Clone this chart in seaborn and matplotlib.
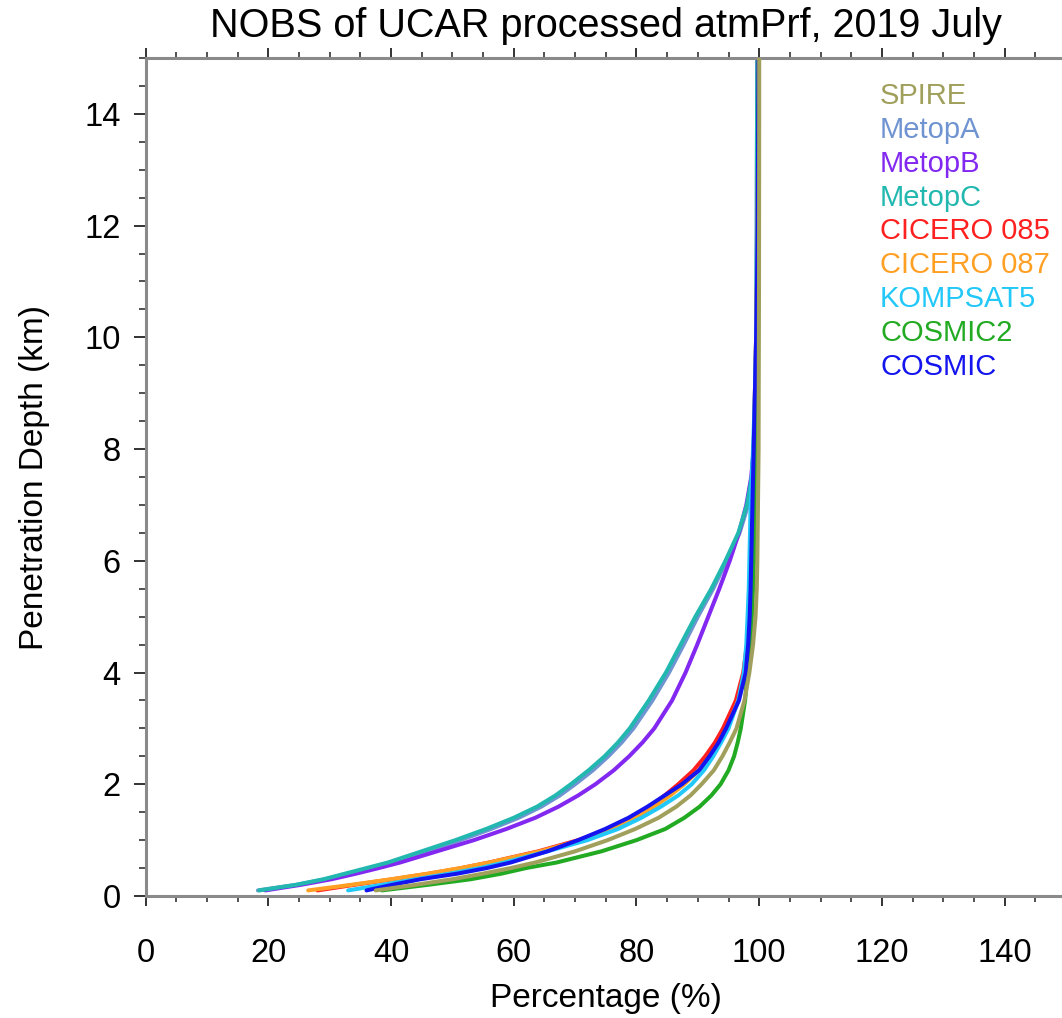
import numpy as np
import pandas as pd
import matplotlib
matplotlib.use("Agg")
import matplotlib.pyplot as plt
from matplotlib.ticker import MultipleLocator
import seaborn as sns

# ---------------- data ----------------
DEPTH_KM = [0.1, 0.2, 0.3, 0.4, 0.5, 0.6, 0.8, 1.0, 1.2, 1.4, 1.6, 1.8, 2.0, 2.25,
            2.5, 2.75, 3.0, 3.5, 4.0, 4.5, 5.0, 5.5, 6.0, 6.5, 7.0, 7.5, 8.0,
            9.0, 10.0, 11.0, 12.0, 13.0, 14.0, 15.0]

SPIRE = [37.5, 44.0, 50.0, 55.0, 59.5, 63.5, 70.0, 75.3, 79.8, 83.6, 86.5, 88.8, 90.6, 92.6,
         94.0, 95.2, 96.3, 97.6, 98.4, 99.0, 99.4, 99.6, 99.7, 99.75, 99.8, 99.85, 99.9,
         99.92, 99.95, 99.97, 99.98, 99.99, 100.0, 100.0]
METOPA = [18.3, 24.6, 29.3, 33.0, 36.6, 40.2, 45.8, 51.3, 56.3, 60.8, 64.5, 67.5, 70.0, 72.9,
          75.4, 77.6, 79.5, 82.6, 85.3, 87.7, 90.0, 92.5, 94.7, 96.8, 98.2, 98.9, 99.2,
          99.45, 99.55, 99.6, 99.6, 99.62, 99.65, 99.7]
METOPB = [19.5, 25.3, 30.3, 34.3, 38.0, 41.5, 47.5, 53.5, 58.8, 63.5, 67.3, 70.5, 73.3, 76.3,
          78.8, 81.0, 82.9, 85.8, 88.0, 89.9, 91.7, 93.5, 95.2, 96.7, 97.9, 98.7, 99.1,
          99.45, 99.55, 99.6, 99.65, 99.68, 99.7, 99.72]
METOPC = [18.5, 24.5, 29.0, 32.5, 36.0, 39.5, 45.0, 50.5, 55.5, 60.0, 63.8, 66.8, 69.3, 72.2,
          74.8, 77.0, 78.9, 82.0, 84.8, 87.2, 89.6, 92.2, 94.5, 96.6, 98.0, 98.8, 99.1,
          99.4, 99.5, 99.55, 99.6, 99.62, 99.65, 99.7]
CICERO_085 = [28.0, 34.0, 40.3, 46.2, 51.5, 56.0, 64.0, 70.5, 75.6, 79.3, 82.2, 84.6, 86.8, 89.3,
              91.2, 92.8, 94.1, 96.2, 97.4, 98.0, 98.45, 98.6, 98.7, 98.8, 98.9, 99.0, 99.1,
              99.3, 99.5, 99.65, 99.75, 99.8, 99.85, 99.9]
CICERO_087 = [26.5, 33.5, 40.0, 46.0, 51.3, 56.0, 64.3, 71.0, 76.0, 79.8, 82.9, 85.5, 87.8, 90.2,
              92.0, 93.5, 94.7, 96.6, 97.7, 98.2, 98.45, 98.6, 98.7, 98.8, 98.9, 99.0, 99.1,
              99.3, 99.5, 99.65, 99.75, 99.8, 99.85, 99.9]
KOMPSAT5 = [33.0, 38.5, 44.0, 49.5, 54.5, 58.5, 65.5, 72.0, 77.0, 80.8, 84.0, 86.8, 89.0, 91.0,
            92.5, 93.8, 95.0, 96.6, 97.5, 97.9, 98.1, 98.3, 98.4, 98.5, 98.6, 98.8, 99.0,
            99.3, 99.5, 99.65, 99.75, 99.8, 99.85, 99.9]
COSMIC2 = [38.5, 46.0, 53.0, 58.0, 62.0, 67.0, 74.3, 80.0, 84.7, 87.8, 90.3, 92.2, 93.7, 95.0,
           95.9, 96.5, 97.0, 97.7, 98.1, 98.5, 98.8, 99.0, 99.15, 99.25, 99.3, 99.4, 99.45,
           99.55, 99.65, 99.75, 99.8, 99.85, 99.88, 99.9]
COSMIC = [36.0, 40.2, 44.8, 50.8, 55.6, 59.5, 65.5, 70.5, 74.9, 78.7, 81.8, 84.6, 87.4, 90.2,
          91.9, 93.4, 94.6, 96.7, 97.8, 98.2, 98.45, 98.6, 98.7, 98.8, 98.9, 99.0, 99.1,
          99.3, 99.5, 99.65, 99.75, 99.8, 99.85, 99.9]

MISSIONS = ["SPIRE", "MetopA", "MetopB", "MetopC", "CICERO 085", "CICERO 087",
            "KOMPSAT5", "COSMIC2", "COSMIC"]
SERIES = [SPIRE, METOPA, METOPB, METOPC, CICERO_085, CICERO_087, KOMPSAT5, COSMIC2, COSMIC]
COLORS = ["#a0a05c", "#7094d2", "#8228f0", "#22b8b0", "#ff2020", "#ffa024",
          "#22c8f8", "#22aa22", "#1414f0"]

TITLE = "NOBS of UCAR processed atmPrf, 2019 July"
XLABEL = "Percentage (%)"
YLABEL = "Penetration Depth (km)"

df = pd.concat(
    [pd.DataFrame({"mission": m, "pct": vals, "depth": DEPTH_KM})
     for m, vals in zip(MISSIONS, SERIES)],
    ignore_index=True)

# ---------------- style ----------------
sns.set_theme(style="white")
plt.rcParams["font.family"] = ["Liberation Sans", "DejaVu Sans"]
plt.rcParams["text.color"] = "black"
plt.rcParams["axes.labelcolor"] = "black"
plt.rcParams["xtick.labelcolor"] = "black"
plt.rcParams["ytick.labelcolor"] = "black"

W, H = 1062, 1018
fig = plt.figure(figsize=(W / 100, H / 100), dpi=100)
ax = fig.add_axes([145.6 / W, (H - 896) / H, 920.4 / W, 838 / H])

sns.lineplot(data=df, x="pct", y="depth", hue="mission", hue_order=MISSIONS,
             palette=dict(zip(MISSIONS, COLORS)), sort=False, estimator=None,
             linewidth=2.9, ax=ax, legend=True)
ax.lines[0].set_zorder(3)

ax.set_xlim(0, 150)
ax.set_ylim(0, 15)
ax.xaxis.set_major_locator(MultipleLocator(20))
ax.xaxis.set_minor_locator(MultipleLocator(5))
ax.yaxis.set_major_locator(MultipleLocator(2))
ax.yaxis.set_minor_locator(MultipleLocator(0.5))

for side in ["left", "bottom", "top"]:
    ax.spines[side].set_color("#8a8a8a")
    ax.spines[side].set_linewidth(2.2)
ax.spines["right"].set_visible(False)

ax.tick_params(axis="x", which="major", direction="out", length=7, width=1.4,
               color="#333333", labelcolor="black", top=True, bottom=True,
               labelsize=23.5, pad=23)
ax.tick_params(axis="x", which="minor", direction="out", length=4, width=1.2,
               color="#333333", top=True, bottom=True)
ax.tick_params(axis="y", which="major", direction="out", length=9, width=1.4,
               color="#333333", labelcolor="black", left=True, labelsize=23.5, pad=9)
ax.tick_params(axis="y", which="minor", direction="out", length=5, width=1.2,
               color="#333333", left=True)

ax.set_xlabel(XLABEL, fontsize=24, color="black")
ax.set_ylabel(YLABEL, fontsize=24, color="black")
ax.xaxis.set_label_coords(0.5, -0.104)
ax.yaxis.set_label_coords(-0.104, 0.5)

fig.text(606 / W, 1 - 37 / H, TITLE, ha="center", va="baseline", fontsize=28.5,
         color="black")

handles, labels = ax.get_legend_handles_labels()
ax.legend(handles, labels, loc="upper left", bbox_to_anchor=(880 / W, 1 - 82 / H),
          bbox_transform=fig.transFigure, frameon=False, handlelength=0,
          handletextpad=0, labelcolor="linecolor", fontsize=21, labelspacing=0.2,
          borderpad=0, borderaxespad=0)

fig.savefig("out.png", dpi=100)
